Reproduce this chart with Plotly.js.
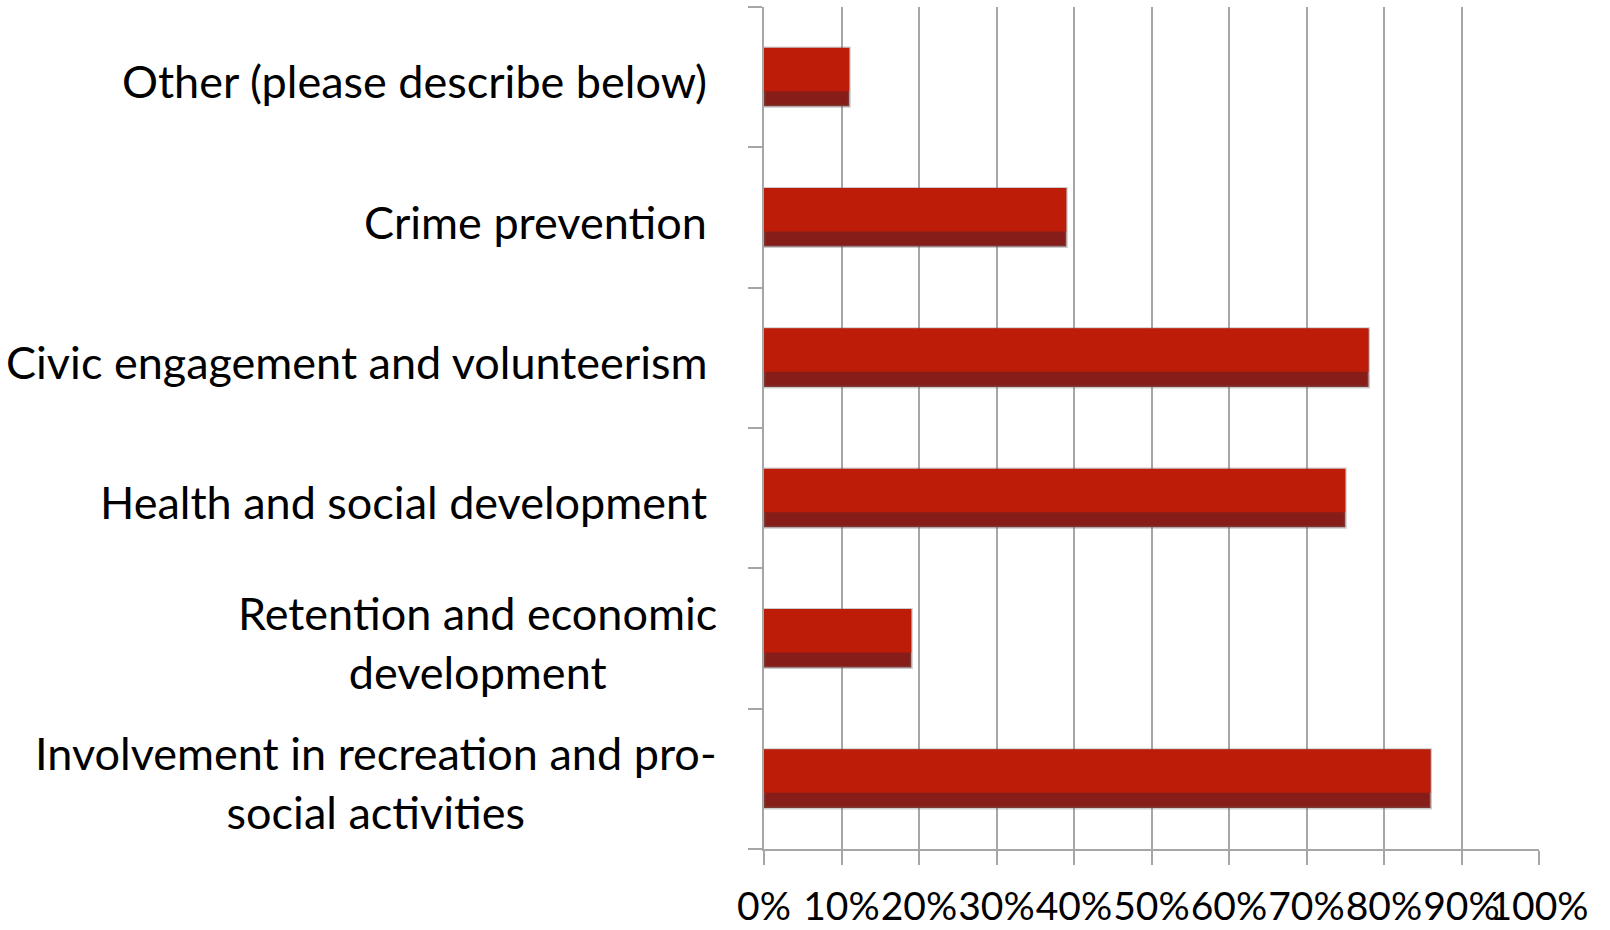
<!DOCTYPE html>
<html>
<head>
<meta charset="utf-8">
<script src="https://cdn.plot.ly/plotly-3.0.1.min.js"></script>
<style>
  html, body { margin: 0; padding: 0; background: #ffffff; }
  #chart { width: 1610px; height: 930px; }
</style>
</head>
<body>
<div id="chart"></div>
<script>
// Categories listed bottom to top
const categories = [
  "Involvement in recreation and pro-<br>social activities",
  "Retention and economic<br>development",
  "Health and social development",
  "Civic engagement and volunteerism",
  "Crime prevention",
  "Other (please describe below)"
];
const values = [0.86, 0.19, 0.75, 0.78, 0.39, 0.11];
const xTickValues = [0, 0.1, 0.2, 0.3, 0.4, 0.5, 0.6, 0.7, 0.8, 0.9, 1.0];
const xTickLabels = ["0%", "10%", "20%", "30%", "40%", "50%", "60%", "70%", "80%", "90%", "100%"];

const labelFont = { family: "Lato, 'Open Sans', sans-serif", size: 45, color: "#000000" };
const tickFont = { family: "Lato, 'Open Sans', sans-serif", size: 39, color: "#000000" };
const gridColor = "#a6a6a6";

// Base bar (dark lower bevel, soft grey edge as shadow)
const baseTrace = {
  type: "bar",
  orientation: "h",
  y: categories,
  x: values,
  width: 0.414,
  marker: { color: "#861d18", line: { width: 3, color: "rgba(110,110,110,0.35)" } },
  hoverinfo: "skip",
  showlegend: false
};
// Face of the bar (upper part)
const faceTrace = {
  type: "bar",
  orientation: "h",
  y: categories,
  x: values,
  width: 0.31,
  offset: -0.1,
  marker: { color: "#bd1c09", line: { width: 0 } },
  hoverinfo: "skip",
  showlegend: false
};

const annotations = categories.map(function (c) {
  const twoLine = c.indexOf("<br>") >= 0;
  return {
    xref: "paper", yref: "y",
    x: -0.058, y: c,
    xanchor: "right", yanchor: "middle",
    xshift: twoLine ? 0 : -10,
    yshift: -4,
    align: "center",
    text: c,
    showarrow: false,
    font: labelFont
  };
});

const layout = {
  width: 1610,
  height: 930,
  margin: { l: 764, r: 71, t: 7, b: 81, pad: 0 },
  paper_bgcolor: "#ffffff",
  plot_bgcolor: "#ffffff",
  barmode: "overlay",
  showlegend: false,
  font: labelFont,
  xaxis: {
    range: [0, 1],
    tickvals: xTickValues,
    ticktext: xTickLabels,
    tickangle: 0,
    ticklabelstandoff: 8,
    showgrid: true,
    gridcolor: gridColor,
    gridwidth: 2,
    zeroline: false,
    showline: true,
    linecolor: gridColor,
    linewidth: 2,
    ticks: "outside",
    ticklen: 14,
    tickwidth: 2,
    tickcolor: gridColor,
    tickfont: tickFont,
    fixedrange: true
  },
  yaxis: {
    type: "category",
    categoryorder: "array",
    categoryarray: categories,
    range: [-0.5, categories.length - 0.5],
    showticklabels: false,
    showgrid: false,
    zeroline: false,
    showline: true,
    linecolor: gridColor,
    linewidth: 2,
    ticks: "outside",
    tickson: "boundaries",
    ticklen: 14,
    tickwidth: 2,
    tickcolor: gridColor,
    fixedrange: true
  },
  annotations: annotations
};

Plotly.newPlot("chart", [baseTrace, faceTrace], layout, { displayModeBar: false, staticPlot: true });
</script>
</body>
</html>
